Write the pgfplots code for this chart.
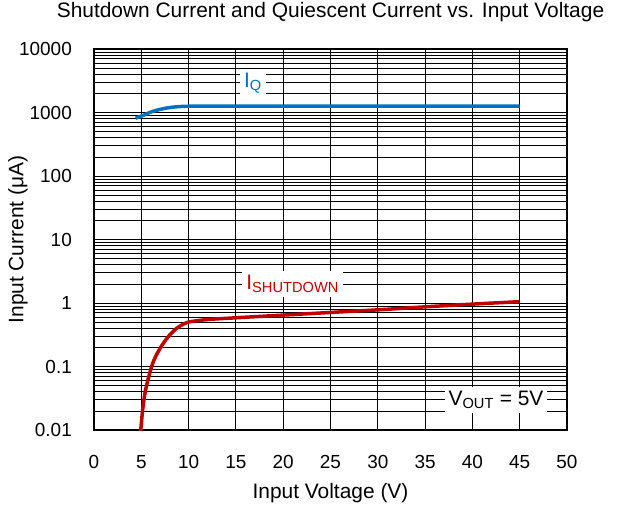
\documentclass[border=0pt]{standalone}
\usepackage{fontspec}
\setmainfont{Liberation Sans}
\usepackage{pgfplots}
\pgfplotsset{compat=1.18}
\definecolor{iqblue}{HTML}{0070C0}
\definecolor{shred}{HTML}{C00000}
\begin{document}
\begin{tikzpicture}
\path[use as bounding box] (-94bp,-77bp) rectangle (529bp,430bp);
\begin{axis}[
  at={(0,0)}, anchor=south west,
  scale only axis,
  width=473bp, height=381bp,
  ymode=log,
  xmin=0, xmax=50, ymin=0.01, ymax=10000,
  xtick={0,5,...,50},
  ytick={0.01,0.1,1,10,100,1000,10000},
  yticklabels={0.01,0.1,1,10,100,1000,10000},
  /pgf/number format/assume math mode=true,
  xmajorgrids, ymajorgrids, yminorgrids,
  major grid style={black, line width=0.9pt},
  minor grid style={black, line width=0.7pt},
  major tick length=0pt, minor tick length=0pt,
  axis line style={line width=2pt},
  xticklabel style={font=\fontsize{19}{22}\selectfont, inner sep=0pt, anchor=north, yshift=-25bp},
  yticklabel style={font=\fontsize{19}{22}\selectfont, inner sep=0pt, anchor=east, xshift=-22bp},
  xlabel={Input Voltage (V)},
  ylabel={Input Current (μA)},
  title={Shutdown Current and Quiescent Current vs. Input Voltage},
  title style={font=\fontsize{21}{24}\selectfont, at={(axis description cs:0.5,1)}, anchor=center, yshift=31bp},
  xlabel style={font=\fontsize{21}{24}\selectfont, at={(axis description cs:0.5,0)}, anchor=center, yshift=-63bp},
  ylabel style={font=\fontsize{21}{24}\selectfont, at={(axis description cs:-0.161,0.5)}, anchor=center},
  clip=true,
]
\addplot[iqblue, line width=3.5bp, smooth] coordinates {
(4.4,815) (5.2,900) (6.1,1030) (7.0,1120) (7.9,1190) (8.9,1235) (10.0,1255) (11.5,1260)
(15,1260) (20,1260) (25,1260) (30,1260) (35,1260) (40,1260) (45,1260)
};
\addplot[shred, line width=3.5bp, smooth] coordinates {
(4.93,0.0095) (5.14,0.0206) (5.39,0.038) (5.74,0.065) (6.27,0.119) (6.98,0.193)
(7.85,0.295) (8.74,0.40) (9.8,0.49) (10.85,0.525) (12.26,0.553) (15,0.585)
(20,0.645) (25,0.71) (30,0.78) (35,0.87) (40,0.96) (45,1.05)
};
\node[fill=white, text=iqblue, inner sep=4pt, anchor=center, font=\fontsize{21}{24}\selectfont] at (axis cs:16.8,2920) {I\textsubscript{Q}};
\node[fill=white, text=shred, inner sep=4pt, anchor=center, font=\fontsize{21}{24}\selectfont] at (axis cs:21,2.0) {I\textsubscript{SHUTDOWN}};
\node[fill=white, inner sep=4pt, anchor=center, font=\fontsize{21}{24}\selectfont] at (axis cs:42.5,0.0297) {V\textsubscript{OUT} = 5V};
\end{axis}
\end{tikzpicture}
\end{document}
